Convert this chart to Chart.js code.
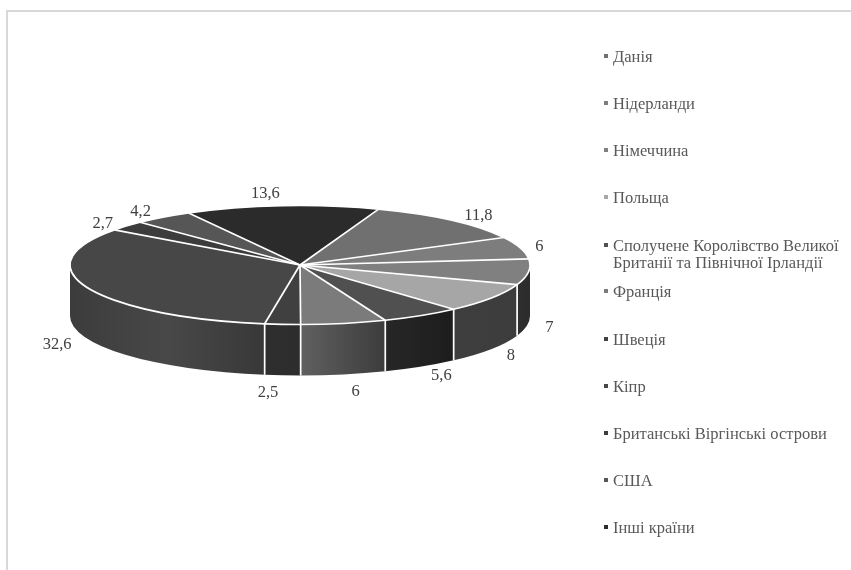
<!DOCTYPE html>
<html lang="uk">
<head>
<meta charset="utf-8">
<title>Розподіл за країнами</title>
<script src="https://cdn.jsdelivr.net/npm/chart.js@4/dist/chart.umd.js"></script>
<style>
  html, body { margin: 0; padding: 0; background: #fff; overflow: hidden; }
  #wrap { position: relative; width: 851px; height: 570px; overflow: hidden; }
  #frame { position: absolute; left: 6px; top: 10px; right: -4px; bottom: -4px;
           border: 2px solid #d9d9d9; }
  #chart { position: absolute; left: 0; top: 0; }
  #legend { position: absolute; left: 604px; top: 48px; margin: 0; padding: 0; list-style: none;
            font: 16.5px/17px "Liberation Serif", serif; color: #595959; }
  #legend li { position: relative; height: 47.1px; padding-left: 9px; width: 238px; }
  #legend li.wrapped { top: 1px; }
  #legend i { position: absolute; left: 0; top: 6px; width: 4px; height: 4px; }
</style>
</head>
<body>
<div id="wrap">
  <div id="frame"></div>
  <canvas id="chart" width="851" height="570"></canvas>
  <ul id="legend"></ul>
</div>
<script>
var categories = ['Данія', 'Нідерланди', 'Німеччина', 'Польща',
  'Сполучене Королівство Великої Британії та Північної Ірландії', 'Франція', 'Швеція',
  'Кіпр', 'Британські Віргінські острови', 'США', 'Інші країни'];
var shares = [11.8, 6, 7, 8, 5.6, 6, 2.5, 32.6, 2.7, 4.2, 13.6];

var topColors = ['#707070', '#7d7d7d', '#808080', '#a6a6a6', '#505050', '#7b7b7b',
  '#404040', '#474747', '#3c3c3c', '#565656', '#2b2b2b'];
// left to right shading of the outer wall
var wallColors = [
  ['#505050', '#505050'], ['#5a5a5a', '#5a5a5a'], ['#2e2e2e', '#2c2c2c'], ['#3e3e3e', '#3c3c3c'],
  ['#272727', '#1d1d1d'], ['#606060', '#3c3c3c'], ['#2e2e2e', '#2d2d2d'],
  ['#3c3c3c', '#484848', '#383838'], ['#333333', '#333333'], ['#3c3c3c', '#3c3c3c'], ['#1f1f1f', '#1f1f1f']
];
// fine shift of each value label from its computed anchor
var labelShift = [[13, 3], [-1, 2], [0, 4], [2, 1], [9, 1], [8, 7], [-13, 7], [-11, 2], [-8, 4], [-10, 3], [-15, -2]];

var FLOOR_Y = 265;     // drawn centre of the tilted top
var SQUASH = 59.5 / 230;
var DEPTH = 51;

function decimalComma(v) {
  return String(v).replace('.', ',');
}

function wallPath(ctx, arc, a, b) {
  var rx = arc.outerRadius, ry = rx * SQUASH, cx = arc.x;
  ctx.beginPath();
  ctx.ellipse(cx, FLOOR_Y, rx, ry, 0, a, b);
  ctx.ellipse(cx, FLOOR_Y + DEPTH, rx, ry, 0, b, a, true);
  ctx.closePath();
}

// portion of a slice that faces the viewer (canvas angles 0..PI)
function frontSpan(arc) {
  var turn = Math.PI * 2;
  for (var k = -1; k <= 1; k++) {
    var a = Math.max(arc.startAngle + k * turn, 0);
    var b = Math.min(arc.endAngle + k * turn, Math.PI);
    if (b > a) return [a, b];
  }
  return null;
}

var tiltedPie = {
  id: 'tiltedPie',
  beforeDatasetsDraw: function (chart) {
    var ctx = chart.ctx;
    var arcs = chart.getDatasetMeta(0).data;
    arcs.forEach(function (arc, i) {
      var span = frontSpan(arc);
      if (!span) return;
      var rx = arc.outerRadius;
      var x0 = arc.x + rx * Math.cos(span[1]);
      var x1 = arc.x + rx * Math.cos(span[0]);
      var fill = ctx.createLinearGradient(x0, 0, x1, 0);
      wallColors[i].forEach(function (c, n) {
        fill.addColorStop(n / (wallColors[i].length - 1), c);
      });
      wallPath(ctx, arc, span[0], span[1]);
      ctx.fillStyle = fill;
      ctx.fill();
    });
    ctx.save();
    ctx.translate(0, FLOOR_Y - arcs[0].y * SQUASH);
    ctx.scale(1, SQUASH);
  },
  afterDatasetsDraw: function (chart) {
    var ctx = chart.ctx;
    var arcs = chart.getDatasetMeta(0).data;
    ctx.restore();
    ctx.save();
    ctx.strokeStyle = '#ffffff';
    ctx.lineWidth = 1.7;
    ctx.lineJoin = 'round';
    arcs.forEach(function (arc, i) {
      var rx = arc.outerRadius, ry = rx * SQUASH, cx = arc.x;
      // spoke on the top face
      var sx = cx + rx * Math.cos(arc.startAngle);
      var sy = FLOOR_Y + ry * Math.sin(arc.startAngle);
      ctx.beginPath();
      ctx.moveTo(cx, FLOOR_Y);
      ctx.lineTo(sx, sy);
      ctx.stroke();
      // seam down the wall
      if (Math.sin(arc.startAngle) > 0) {
        ctx.beginPath();
        ctx.moveTo(sx, sy);
        ctx.lineTo(sx, sy + DEPTH);
        ctx.stroke();
      }
      // rim of the top face
      ctx.beginPath();
      ctx.ellipse(cx, FLOOR_Y, rx, ry, 0, arc.startAngle, arc.endAngle);
      ctx.stroke();
    });
    // value labels outside the rim
    ctx.fillStyle = '#404040';
    ctx.font = '16.5px "Liberation Serif", serif';
    ctx.textAlign = 'center';
    ctx.textBaseline = 'middle';
    arcs.forEach(function (arc, i) {
      var mid = (arc.startAngle + arc.endAngle) / 2;
      var rx = arc.outerRadius, ry = rx * SQUASH;
      var lx = arc.x + (rx + 21) * Math.cos(mid);
      var ly = FLOOR_Y + (ry + 10) * Math.sin(mid) + (Math.sin(mid) > 0 ? DEPTH : 0);
      ctx.fillText(decimalComma(shares[i]), lx + labelShift[i][0], ly + labelShift[i][1]);
    });
    ctx.restore();
  }
};

new Chart(document.getElementById('chart'), {
  type: 'pie',
  data: {
    labels: categories,
    datasets: [{
      data: shares,
      backgroundColor: topColors,
      borderWidth: 0
    }]
  },
  options: {
    responsive: false,
    animation: false,
    rotation: 20,
    layout: { padding: { left: 70, right: 321, top: 55, bottom: 55 } },
    plugins: { legend: { display: false }, tooltip: { enabled: false } }
  },
  plugins: [tiltedPie]
});

var legendEl = document.getElementById('legend');
categories.forEach(function (name, i) {
  var li = document.createElement('li');
  var box = document.createElement('i');
  box.style.background = topColors[i];
  li.appendChild(box);
  li.appendChild(document.createTextNode(name));
  if (name.length > 40) li.className = 'wrapped';
  legendEl.appendChild(li);
});
</script>
</body>
</html>
